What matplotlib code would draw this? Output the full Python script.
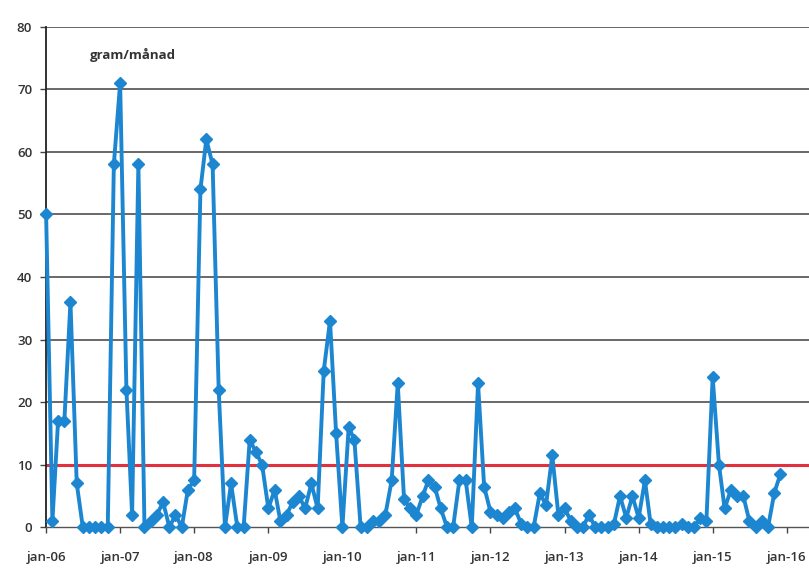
import pandas as pd
import matplotlib
matplotlib.use("Agg")
import matplotlib.pyplot as plt
import matplotlib.dates as mdates

# ---- DATA (gram/månad, monthly jan-06 .. dec-15) ----
v2006 = [50, 1, 17, 17, 36, 7, 0, 0, 0, 0, 0, 58]
v2007 = [71, 22, 2, 58, 0, 1, 2, 4, 0, 2, 0, 6]
v2008 = [7.5, 54, 62, 58, 22, 0, 7, 0, 0, 14, 12, 10]
v2009 = [3, 6, 1, 2, 4, 5, 3, 7, 3, 25, 33, 15]
v2010 = [0, 16, 14, 0, 0, 1, 1, 2, 7.5, 23, 4.5, 3]
v2011 = [2, 5, 7.5, 6.5, 3, 0, 0, 7.5, 7.5, 0, 23, 6.5]
v2012 = [2.5, 2, 1.5, 2.5, 3, 0.5, 0, 0, 5.5, 3.5, 11.5, 2]
v2013 = [3, 1, 0, 0, 2, 0, 0, 0, 0.5, 5, 1.5, 5]
v2014 = [1.5, 7.5, 0.5, 0, 0, 0, 0, 0.5, 0, 0, 1.5, 1]
v2015 = [24, 10, 3, 6, 5, 5, 1, 0, 1, 0, 5.5, 8.5]

values = v2006 + v2007 + v2008 + v2009 + v2010 + v2011 + v2012 + v2013 + v2014 + v2015
months = pd.date_range("2006-01-01", periods=len(values), freq="MS")
threshold = 10
year_ticks = pd.date_range("2006-01-01", "2016-01-01", freq="YS")
y_ticks = list(range(0, 81, 10))

# ---- CHART ----
plt.rcParams["font.family"] = ["Open Sans", "DejaVu Sans"]

fig = plt.figure(figsize=(8.09, 5.70), dpi=100)
ax = fig.add_axes([0.057, 0.075, 0.943, 0.878])

for y in y_ticks[1:]:
    ax.axhline(y, color="#404040", linewidth=1.1, zorder=1)

ax.axhline(threshold, color="#e2303f", linewidth=2.2, zorder=2)

ax.plot(months, values, color="#1c86d1", linewidth=2.8, marker="D",
        markersize=6, markerfacecolor="#1c86d1", markeredgecolor="#1c86d1",
        zorder=3, clip_on=False)

ax.set_ylim(0, 80)
ax.set_xlim(pd.Timestamp("2006-01-01"), pd.Timestamp("2016-04-20"))
ax.set_yticks(y_ticks)
ax.set_xticks(year_ticks)
ax.xaxis.set_major_formatter(mdates.DateFormatter("jan-%y"))

for side in ["top", "right"]:
    ax.spines[side].set_visible(False)
ax.spines["left"].set_color("#222222")
ax.spines["left"].set_linewidth(1.3)
ax.spines["bottom"].set_color("#555555")
ax.spines["bottom"].set_linewidth(1.0)

ax.tick_params(axis="y", length=4, width=1, color="#444444", pad=6,
               labelsize=9.5, labelcolor="#333333")
ax.tick_params(axis="x", length=4, width=1, color="#444444", pad=13,
               labelsize=9.5, labelcolor="#333333")
for lbl in ax.get_xticklabels() + ax.get_yticklabels():
    lbl.set_fontweight("semibold")

ax.text(0.058, 75.5, "gram/månad", transform=ax.get_yaxis_transform(),
        fontsize=9.5, fontweight="bold", color="#333333", va="center")

plt.savefig("out.png", dpi=100)
